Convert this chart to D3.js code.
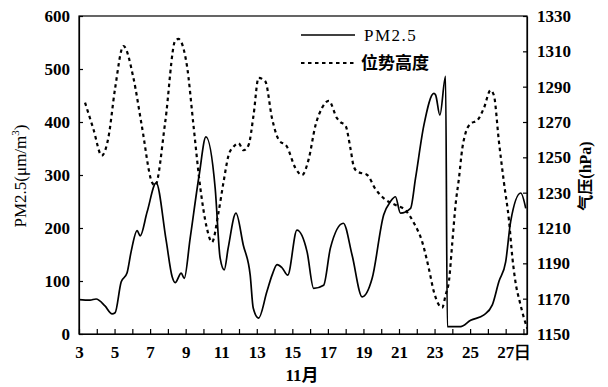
<!DOCTYPE html>
<html lang="zh">

<head>
  <meta charset="UTF-8">
  <script src="https://cdn.jsdelivr.net/npm/d3@7"></script>
  <title>PM2.5 与 位势高度</title>
  <style>
    body { margin: 0; background: #fff; }
    .domain, .tick line { stroke: #000; stroke-width: 1.2; }
  </style>
</head>

<body>
  <svg width="608" height="387"></svg>
  <script>
    // 数据：日期(11月) 与 PM2.5 浓度
    var pmDays = [3.0, 3.62, 3.96, 4.46, 4.86, 5.03, 5.37, 5.70, 5.93, 6.27, 6.44, 6.83, 7.34, 7.90, 8.24, 8.41, 8.75, 8.92, 9.25, 9.76,
      10.14, 10.66, 10.94, 11.17, 11.39, 11.83, 12.24, 12.63, 12.80, 13.10, 13.57, 13.86, 14.14, 14.42, 14.74, 15.26, 15.83, 16.20,
      16.76, 17.14, 17.87, 18.36, 18.93, 19.49, 20.14, 20.52, 20.80, 21.08, 21.65, 21.93, 22.40, 22.96, 23.06, 23.30, 23.62, 23.72,
      24.46, 25.03, 25.78, 26.25, 26.62, 27.0, 27.28, 27.85, 28.13];
    var pmValues = [65, 64, 66, 53, 38, 40, 98, 115, 155, 195, 185, 230, 285, 177, 108, 97, 115, 105, 180, 300,
      372, 275, 143, 121, 162, 228, 168, 111, 49, 30, 80, 111, 131, 125, 111, 196, 155, 86,
      92, 162, 209, 149, 70, 105, 225, 250, 259, 228, 237, 294, 394, 454, 451, 413, 486, 14,
      14, 26, 36, 55, 99, 136, 212, 266, 237];

    // 位势高度 (右轴 hPa)
    var ghDays = [3.34, 3.81, 4.28, 4.65, 5.03, 5.50, 6.06, 6.53, 7.10, 7.28, 7.85, 8.41, 8.59, 9.07, 9.44, 9.82, 10.19, 10.48,
      10.85, 11.13, 11.41, 11.69, 11.97, 12.26, 12.54, 12.82, 13.10, 13.48, 13.86, 14.23, 14.70, 15.17, 15.55, 15.92, 16.30,
      16.67, 17.05, 17.52, 17.70, 17.99, 18.27, 18.45, 18.65, 19.21, 19.68, 20.24, 20.80, 21.37, 21.83, 22.31, 22.68, 22.96,
      23.43, 23.62, 23.81, 24.00, 24.18, 24.37, 24.56, 24.75, 25.03, 25.41, 25.78, 26.15, 26.34, 26.62, 26.90, 27.19, 27.38,
      27.61, 27.75, 28.03, 28.22];
    var ghValues = [1281, 1266, 1251, 1261, 1289, 1313, 1295, 1268, 1236, 1234, 1270, 1316, 1317, 1302, 1268, 1233, 1210, 1202,
      1219, 1236, 1251, 1256, 1258, 1254, 1257, 1274, 1295, 1293, 1272, 1260, 1256, 1244, 1240, 1249, 1268,
      1278, 1282, 1272, 1270, 1268, 1255, 1245, 1242, 1240, 1232, 1226, 1223, 1220, 1213, 1202, 1187, 1174,
      1165, 1172, 1180, 1202, 1223, 1238, 1255, 1264, 1269, 1271, 1278, 1288, 1285, 1259, 1236, 1214, 1193,
      1176, 1170, 1159, 1153];

    var xTickLabels = [3, 5, 7, 9, 11, 13, 15, 17, 19, 21, 23, 25, 27];
    var leftTicks = [0, 100, 200, 300, 400, 500, 600];
    var rightTicks = [1150, 1170, 1190, 1210, 1230, 1250, 1270, 1290, 1310, 1330];

    var marge = { top: 16, bottom: 53, left: 79, right: 81 }
    var svg = d3.select("svg");
    var width = +svg.attr("width");
    var height = +svg.attr("height");
    var w = width - marge.left - marge.right;
    var h = height - marge.top - marge.bottom;
    var g = svg.append("g")
      .attr("transform", `translate(${marge.left},${marge.top})`);

    var xScale = d3.scaleLinear().domain([3, 28.2]).range([0, w]);
    var yLeft = d3.scaleLinear().domain([0, 600]).range([h, 0]);
    var yRight = d3.scaleLinear().domain([1150, 1330]).range([h, 0]);

    var serif = "'Liberation Serif', 'Times New Roman', serif";

    // 边框
    g.append("rect")
      .attr("width", w).attr("height", h)
      .attr("fill", "none").attr("stroke", "#000").attr("stroke-width", 1.2);

    // x 轴，刻度向内
    var xAxis = d3.axisBottom(xScale)
      .tickValues(d3.range(3, 29))
      .tickSizeInner(-5).tickSizeOuter(0)
      .tickPadding(12)
      .tickFormat(d => xTickLabels.includes(d) ? (d === 27 ? "27日" : d) : "");
    var gx = g.append("g")
      .attr("transform", "translate(0," + h + ")")
      .call(xAxis);
    gx.selectAll(".tick text")
      .filter(d => d === 27)
      .attr("text-anchor", "start")
      .attr("dx", -9);

    var gl = g.append("g")
      .call(d3.axisLeft(yLeft).tickValues(leftTicks).tickSizeInner(-4).tickSizeOuter(0).tickPadding(9));

    var gr = g.append("g")
      .attr("transform", "translate(" + w + ",0)")
      .call(d3.axisRight(yRight).tickValues(rightTicks).tickFormat(d3.format("d"))
        .tickSizeInner(-4).tickSizeOuter(0).tickPadding(10));

    [gx, gl, gr].forEach(a => a.selectAll(".tick text")
      .style("font-family", serif)
      .style("font-weight", "bold")
      .style("font-size", "17px")
      .style("fill", "#000"));

    // 折线
    g.append("clipPath").attr("id", "clip")
      .append("rect").attr("width", w).attr("height", h);

    var pmLine = d3.line()
      .x((d, i) => xScale(pmDays[i]))
      .y(d => yLeft(d))
      .curve(d3.curveMonotoneX);
    var ghLine = d3.line()
      .x((d, i) => xScale(ghDays[i]))
      .y(d => yRight(d))
      .curve(d3.curveMonotoneX);

    g.append("path")
      .attr("d", ghLine(ghValues))
      .attr("clip-path", "url(#clip)")
      .attr("fill", "none").attr("stroke", "#000")
      .attr("stroke-width", 2.2).attr("stroke-dasharray", "3.5,3.5");

    g.append("path")
      .attr("d", pmLine(pmValues))
      .attr("clip-path", "url(#clip)")
      .attr("fill", "none").attr("stroke", "#000")
      .attr("stroke-width", 1.7);

    // 图例
    var lg = svg.append("g");
    lg.append("line").attr("x1", 301).attr("x2", 355).attr("y1", 35).attr("y2", 35)
      .attr("stroke", "#000").attr("stroke-width", 1.7);
    lg.append("text").attr("x", 364).attr("y", 41)
      .style("font-family", serif).style("font-size", "17px")
      .attr("letter-spacing", 1.5)
      .text("PM2.5");
    lg.append("line").attr("x1", 301).attr("x2", 355).attr("y1", 63).attr("y2", 63)
      .attr("stroke", "#000").attr("stroke-width", 2.2).attr("stroke-dasharray", "3.5,3.5");
    lg.append("text").attr("x", 361).attr("y", 69)
      .style("font-family", "'Noto Sans CJK SC'").style("font-weight", "bold").style("font-size", "17px")
      .text("位势高度");

    // 轴标题
    svg.append("text")
      .attr("transform", "translate(26,176) rotate(-90)")
      .attr("text-anchor", "middle")
      .style("font-family", serif).style("font-size", "17px")
      .html("PM2.5(μm/m<tspan dy='-7' font-size='11'>3</tspan><tspan dy='7'>)</tspan>");

    svg.append("text")
      .attr("transform", "translate(591,176) rotate(-90)")
      .attr("text-anchor", "middle")
      .style("font-family", serif + ", 'Noto Sans CJK SC'").style("font-size", "16px").style("font-weight", "bold")
      .text("气压(hPa)");

    svg.append("text")
      .attr("x", 302).attr("y", 381)
      .attr("text-anchor", "middle")
      .style("font-family", serif + ", 'Noto Sans CJK SC'").style("font-size", "17px").style("font-weight", "bold")
      .text("11月");
  </script>
</body>

</html>
